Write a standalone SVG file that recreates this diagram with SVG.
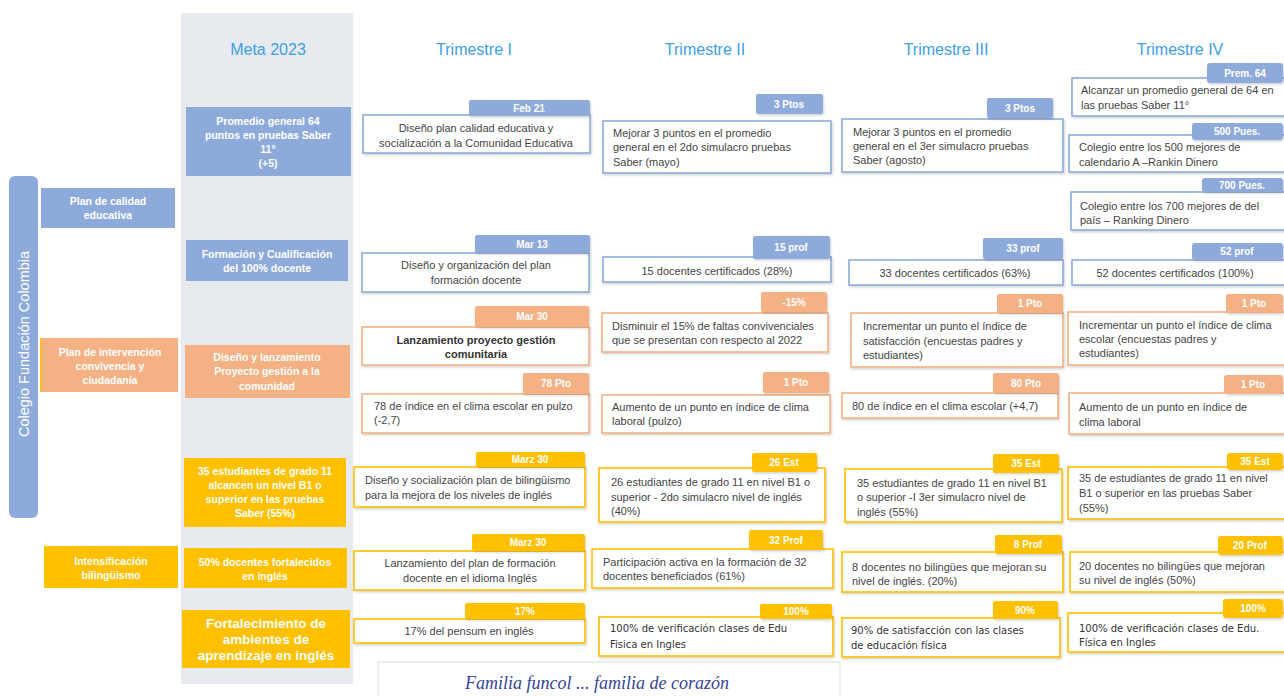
<svg xmlns="http://www.w3.org/2000/svg" width="1284" height="696" viewBox="0 0 1284 696">
<defs>
<filter id="sh" x="-5%" y="-10%" width="110%" height="130%"><feDropShadow dx="1" dy="1.5" stdDeviation="1" flood-color="#000" flood-opacity="0.18"/></filter>
<style>
.hdr{font-family:"Liberation Sans",Arial,sans-serif;font-size:16px;fill:#3d9ee6;text-anchor:middle}
.ct{font-family:"Liberation Sans",Arial,sans-serif;font-size:11px;fill:#444}
.dj{font-family:"DejaVu Sans",sans-serif;font-size:10px;fill:#333}
.cc{text-anchor:middle}
.bd{font-weight:bold;fill:#333}
.tg{font-family:"Liberation Sans",Arial,sans-serif;font-size:10px;font-weight:bold;fill:#fff;text-anchor:middle}
.mt{font-family:"Liberation Sans",Arial,sans-serif;font-size:10.5px;font-weight:bold;fill:#fff;text-anchor:middle}
.mtl{font-size:13.5px}
.box{fill:#fff;stroke-width:1.6;filter:url(#sh)}
.bl{stroke:#8eaadb}.or{stroke:#f4b183}.ye{stroke:#ffc000}
.fb{fill:#8eaadb}.fo{fill:#f4b183}.fy{fill:#ffc000}
.tag{filter:url(#sh)}
</style>
</defs>
<rect width="1284" height="696" fill="#fff"/>
<rect x="181" y="13" width="172" height="671" fill="#e7eaef"/>

<g id="headers">
<text class="hdr" x="268" y="55">Meta 2023</text>
<text class="hdr" x="474" y="55">Trimestre I</text>
<text class="hdr" x="705" y="55">Trimestre II</text>
<text class="hdr" x="946" y="55">Trimestre III</text>
<text class="hdr" x="1180" y="55">Trimestre IV</text>
</g>

<g id="colegio">
<rect x="9" y="176" width="29" height="342" rx="6" class="fb"/>
<text transform="translate(29,344) rotate(-90)" text-anchor="middle" font-family="Liberation Sans, Arial, sans-serif" font-size="14.5" fill="#fff">Colegio Fundación Colombia</text>
</g>

<g id="plan-calidad">
<rect x="41" y="188" width="134" height="40" class="fb"/>
<text class="mt" x="108" y="205">Plan de calidad</text>
<text class="mt" x="108" y="219">educativa</text>
</g>
<g id="plan-intervencion">
<rect x="41" y="338" width="137" height="54" class="fo"/>
<rect x="40" y="338" width="1.5" height="54" fill="#ffc000"/>
<text class="mt" x="110" y="356">Plan de intervención</text>
<text class="mt" x="110" y="370">convivencia y</text>
<text class="mt" x="110" y="384">ciudadanía</text>
</g>
<g id="bilinguismo">
<rect x="44" y="546" width="134" height="42" class="fy"/>
<text class="mt" x="111" y="565">Intensificación</text>
<text class="mt" x="111" y="579">bilingüismo</text>
</g>

<g id="meta1">
<rect x="186" y="107" width="165" height="69" class="fb"/>
<text class="mt" x="268" y="125">Promedio general 64</text>
<text class="mt" x="268" y="139">puntos en pruebas Saber</text>
<text class="mt" x="268" y="153">11°</text>
<text class="mt" x="268" y="167">(+5)</text>
</g>
<g id="meta2">
<rect x="186" y="240" width="162" height="41" class="fb"/>
<text class="mt" x="267" y="258">Formación y Cualificación</text>
<text class="mt" x="267" y="272">del 100% docente</text>
</g>
<g id="meta3">
<rect x="185" y="345" width="165" height="53" class="fo"/>
<text class="mt" x="267" y="361">Diseño y lanzamiento</text>
<text class="mt" x="267" y="375">Proyecto gestión a la</text>
<text class="mt" x="267" y="390">comunidad</text>
</g>
<g id="meta4">
<rect x="184" y="458" width="162" height="69" class="fy"/>
<text class="mt" x="265" y="475">35 estudiantes de grado 11</text>
<text class="mt" x="265" y="489">alcancen un nivel B1 o</text>
<text class="mt" x="265" y="503">superior en las pruebas</text>
<text class="mt" x="265" y="517">Saber (55%)</text>
</g>
<g id="meta5">
<rect x="184" y="548" width="163" height="40" class="fy"/>
<text class="mt" x="265" y="566">50% docentes fortalecidos</text>
<text class="mt" x="265" y="580">en inglés</text>
</g>
<g id="meta6">
<rect x="182" y="610" width="168" height="58" class="fy"/>
<text class="mt mtl" x="266" y="628">Fortalecimiento de</text>
<text class="mt mtl" x="266" y="644">ambientes de</text>
<text class="mt mtl" x="266" y="660">aprendizaje en inglés</text>
</g>

<!-- Trimestre I -->
<g id="t1c1">
<rect x="363" y="115" width="227" height="38" class="box bl"/>
<rect x="469" y="100" width="121" height="16" rx="2" class="fb tag"/>
<text class="tg" x="529" y="112">Feb 21</text>
<text class="ct cc" x="476" y="132">Diseño plan calidad educativa y</text>
<text class="ct cc" x="476" y="147">socialización a la Comunidad Educativa</text>
</g>
<g id="t1c2">
<rect x="362" y="253" width="227" height="39" class="box bl"/>
<rect x="475" y="235" width="115" height="18" rx="2" class="fb tag"/>
<text class="tg" x="532" y="248">Mar 13</text>
<text class="ct cc" x="476" y="269">Diseño y organización del  plan</text>
<text class="ct cc" x="476" y="284">formación docente</text>
</g>
<g id="t1c3">
<rect x="362" y="327" width="227" height="38" class="box or"/>
<rect x="475" y="306" width="114" height="21" rx="2" class="fo tag"/>
<text class="tg" x="532" y="320">Mar 30</text>
<text class="ct cc bd" x="476" y="344">Lanzamiento proyecto gestión</text>
<text class="ct cc bd" x="476" y="358">comunitaria</text>
</g>
<g id="t1c4">
<rect x="362" y="394" width="227" height="39" class="box or"/>
<rect x="523" y="373" width="66" height="21" rx="2" class="fo tag"/>
<text class="tg" x="556" y="387">78 Pto</text>
<text class="ct" x="374" y="410">78 de índice en el clima escolar en pulzo</text>
<text class="ct" x="374" y="424">(-2,7)</text>
</g>
<g id="t1c5">
<rect x="354" y="467" width="231" height="40" class="box ye"/>
<rect x="476" y="452" width="109" height="15" rx="2" class="fy tag"/>
<text class="tg" x="530" y="463">Marz 30</text>
<text class="ct" x="365" y="484">Diseño y socialización plan de bilingüismo</text>
<text class="ct" x="365" y="499">para la mejora de los niveles de inglés</text>
</g>
<g id="t1c6">
<rect x="354" y="551" width="231" height="39" class="box ye"/>
<rect x="472" y="534" width="113" height="17" rx="2" class="fy tag"/>
<text class="tg" x="528" y="546">Marz 30</text>
<text class="ct cc" x="470" y="567">Lanzamiento del plan de formación</text>
<text class="ct cc" x="470" y="582">docente en el idioma Inglés</text>
</g>
<g id="t1c7">
<rect x="354" y="619" width="231" height="24" class="box ye"/>
<rect x="465" y="603" width="120" height="16" rx="2" class="fy tag"/>
<text class="tg" x="525" y="615">17%</text>
<text class="ct cc" x="469" y="635">17% del pensum en inglés</text>
</g>

<!-- Trimestre II -->
<g id="t2c1">
<rect x="603" y="121" width="228" height="52" class="box bl"/>
<rect x="756" y="94" width="67" height="20" rx="2" class="fb tag"/>
<text class="tg" x="789" y="108">3 Ptos</text>
<text class="ct" x="613" y="137">Mejorar 3 puntos en el promedio</text>
<text class="ct" x="613" y="151">general en el 2do simulacro pruebas</text>
<text class="ct" x="613" y="166">Saber (mayo)</text>
</g>
<g id="t2c2">
<rect x="603" y="257" width="228" height="25" class="box bl"/>
<rect x="753" y="236" width="77" height="23" rx="2" class="fb tag"/>
<text class="tg" x="791" y="251">15 prof</text>
<text class="ct cc" x="717" y="275">15 docentes certificados (28%)</text>
</g>
<g id="t2c3">
<rect x="602" y="313" width="226" height="39" class="box or"/>
<rect x="761" y="292" width="66" height="20" rx="2" class="fo tag"/>
<text class="tg" x="794" y="306">-15%</text>
<text class="ct" x="612" y="330">Disminuir el 15% de faltas convivenciales</text>
<text class="ct" x="612" y="344">que se presentan con respecto al 2022</text>
</g>
<g id="t2c4">
<rect x="602" y="395" width="228" height="38" class="box or"/>
<rect x="763" y="372" width="66" height="21" rx="2" class="fo tag"/>
<text class="tg" x="796" y="386">1 Pto</text>
<text class="ct" x="612" y="411">Aumento de un punto en índice de clima</text>
<text class="ct" x="612" y="425">laboral (pulzo)</text>
</g>
<g id="t2c5">
<rect x="599" y="468" width="226" height="54" class="box ye"/>
<rect x="752" y="453" width="65" height="19" rx="2" class="fy tag"/>
<text class="tg" x="784" y="466">26 Est</text>
<text class="ct" x="611" y="486">26 estudiantes de grado 11 en nivel B1 o</text>
<text class="ct" x="611" y="501">superior - 2do simulacro nivel de inglés</text>
<text class="ct" x="611" y="515">(40%)</text>
</g>
<g id="t2c6">
<rect x="592" y="549" width="241" height="39" class="box ye"/>
<rect x="749" y="530" width="74" height="20" rx="2" class="fy tag"/>
<text class="tg" x="786" y="544">32 Prof</text>
<text class="ct" x="603" y="566">Participación activa en la formación de 32</text>
<text class="ct" x="603" y="580">docentes beneficiados (61%)</text>
</g>
<g id="t2c7">
<rect x="599" y="617" width="234" height="39" class="box ye"/>
<rect x="760" y="604" width="72" height="15" rx="2" class="fy tag"/>
<text class="tg" x="796" y="615">100%</text>
<text class="dj" x="610" y="632">100% de verificación clases de Edu</text>
<text class="dj" x="610" y="648">Fisica en Ingles</text>
</g>

<!-- Trimestre III -->
<g id="t3c1">
<rect x="842" y="119" width="221" height="53" class="box bl"/>
<rect x="987" y="98" width="66" height="20" rx="2" class="fb tag"/>
<text class="tg" x="1020" y="112">3 Ptos</text>
<text class="ct" x="853" y="136">Mejorar 3 puntos en el promedio</text>
<text class="ct" x="853" y="150">general en el 3er simulacro pruebas</text>
<text class="ct" x="853" y="164">Saber (agosto)</text>
</g>
<g id="t3c2">
<rect x="849" y="260" width="214" height="25" class="box bl"/>
<rect x="983" y="238" width="80" height="21" rx="2" class="fb tag"/>
<text class="tg" x="1023" y="252">33 prof</text>
<text class="ct cc" x="955" y="277">33 docentes certificados (63%)</text>
</g>
<g id="t3c3">
<rect x="851" y="313" width="212" height="54" class="box or"/>
<rect x="997" y="294" width="66" height="19" rx="2" class="fo tag"/>
<text class="tg" x="1030" y="307">1 Pto</text>
<text class="ct" x="863" y="330">Incrementar un punto el índice de</text>
<text class="ct" x="863" y="345">satisfacción (encuestas padres y</text>
<text class="ct" x="863" y="359">estudiantes)</text>
</g>
<g id="t3c4">
<rect x="842" y="393" width="216" height="25" class="box or"/>
<rect x="993" y="373" width="66" height="20" rx="2" class="fo tag"/>
<text class="tg" x="1026" y="387">80 Pto</text>
<text class="ct" x="852" y="410">80 de índice en el clima escolar (+4,7)</text>
</g>
<g id="t3c5">
<rect x="845" y="469" width="217" height="53" class="box ye"/>
<rect x="993" y="454" width="66" height="19" rx="2" class="fy tag"/>
<text class="tg" x="1026" y="467">35 Est</text>
<text class="ct" x="857" y="487">35 estudiantes de grado 11 en nivel B1</text>
<text class="ct" x="857" y="501">o superior -I 3er simulacro nivel de</text>
<text class="ct" x="857" y="516">inglés (55%)</text>
</g>
<g id="t3c6">
<rect x="842" y="552" width="221" height="40" class="box ye"/>
<rect x="995" y="535" width="67" height="19" rx="2" class="fy tag"/>
<text class="tg" x="1028" y="548">8 Prof</text>
<text class="ct" x="852" y="571">8 docentes no bilingües que mejoran su</text>
<text class="ct" x="852" y="585">nivel de inglés. (20%)</text>
</g>
<g id="t3c7">
<rect x="842" y="618" width="218" height="39" class="box ye"/>
<rect x="993" y="601" width="65" height="18" rx="2" class="fy tag"/>
<text class="tg" x="1025" y="614">90%</text>
<text class="dj" x="851" y="634">90% de satisfacción con las clases</text>
<text class="dj" x="851" y="649">de educación física</text>
</g>

<!-- Trimestre IV -->
<g id="t4c1">
<rect x="1072" y="78" width="214" height="38" class="box bl"/>
<rect x="1207" y="63" width="76" height="20" rx="3" class="fb tag"/>
<text class="tg" x="1245" y="77">Prem. 64</text>
<text class="ct" x="1081" y="94">Alcanzar un promedio general de 64 en</text>
<text class="ct" x="1081" y="109">las pruebas Saber 11°</text>
</g>
<g id="t4c2">
<rect x="1069" y="135" width="217" height="37" class="box bl"/>
<rect x="1192" y="123" width="91" height="17" rx="3" class="fb tag"/>
<text class="tg" x="1237" y="135">500 Pues.</text>
<text class="ct" x="1079" y="151">Colegio entre los 500 mejores de</text>
<text class="ct" x="1079" y="166">calendario A –Rankin Dinero</text>
</g>
<g id="t4c3">
<rect x="1071" y="192" width="215" height="38" class="box bl"/>
<rect x="1202" y="178" width="81" height="14" rx="3" class="fb tag"/>
<text class="tg" x="1242" y="189">700 Pues.</text>
<text class="ct" x="1080" y="210">Colegio entre los 700 mejores de del</text>
<text class="ct" x="1080" y="224">país – Ranking Dinero</text>
</g>
<g id="t4c4">
<rect x="1072" y="260" width="214" height="25" class="box bl"/>
<rect x="1192" y="243" width="91" height="17" rx="3" class="fb tag"/>
<text class="tg" x="1237" y="255">52 prof</text>
<text class="ct cc" x="1175" y="277">52 docentes certificados (100%)</text>
</g>
<g id="t4c5">
<rect x="1068" y="312" width="218" height="53" class="box or"/>
<rect x="1226" y="294" width="57" height="19" rx="3" class="fo tag"/>
<text class="tg" x="1254" y="307">1 Pto</text>
<text class="ct" x="1079" y="329">Incrementar un punto el índice de clima</text>
<text class="ct" x="1079" y="343">escolar (encuestas padres y</text>
<text class="ct" x="1079" y="357">estudiantes)</text>
</g>
<g id="t4c6">
<rect x="1069" y="393" width="217" height="41" class="box or"/>
<rect x="1224" y="375" width="59" height="19" rx="3" class="fo tag"/>
<text class="tg" x="1253" y="388">1 Pto</text>
<text class="ct" x="1079" y="411">Aumento de un punto en índice de</text>
<text class="ct" x="1079" y="426">clima laboral</text>
</g>
<g id="t4c7">
<rect x="1068" y="467" width="218" height="52" class="box ye"/>
<rect x="1227" y="453" width="56" height="17" rx="3" class="fy tag"/>
<text class="tg" x="1255" y="465">35 Est</text>
<text class="ct" x="1079" y="482">35 de estudiantes de grado 11 en nivel</text>
<text class="ct" x="1079" y="497">B1 o superior en las pruebas Saber</text>
<text class="ct" x="1079" y="512">(55%)</text>
</g>
<g id="t4c8">
<rect x="1070" y="552" width="216" height="40" class="box ye"/>
<rect x="1218" y="536" width="65" height="19" rx="3" class="fy tag"/>
<text class="tg" x="1250" y="549">20 Prof</text>
<text class="ct" x="1079" y="570">20 docentes no bilingües que mejoran</text>
<text class="ct" x="1079" y="584">su nivel de inglés (50%)</text>
</g>
<g id="t4c9">
<rect x="1068" y="613" width="218" height="39" class="box ye"/>
<rect x="1223" y="599" width="60" height="19" rx="3" class="fy tag"/>
<text class="tg" x="1253" y="612">100%</text>
<text class="dj" x="1079" y="632">100% de verificación clases de Edu.</text>
<text class="dj" x="1079" y="646">Física en Ingles</text>
</g>

<g id="connectors"></g>

<g id="footer">
<rect x="378" y="662" width="462" height="40" fill="#fff" stroke="#dcdcdc" stroke-width="1"/>
<text x="597" y="689" text-anchor="middle" font-family="Liberation Serif, serif" font-style="italic" font-size="18" fill="#34449a">Familia funcol ... familia de corazón</text>
</g>
</svg>
